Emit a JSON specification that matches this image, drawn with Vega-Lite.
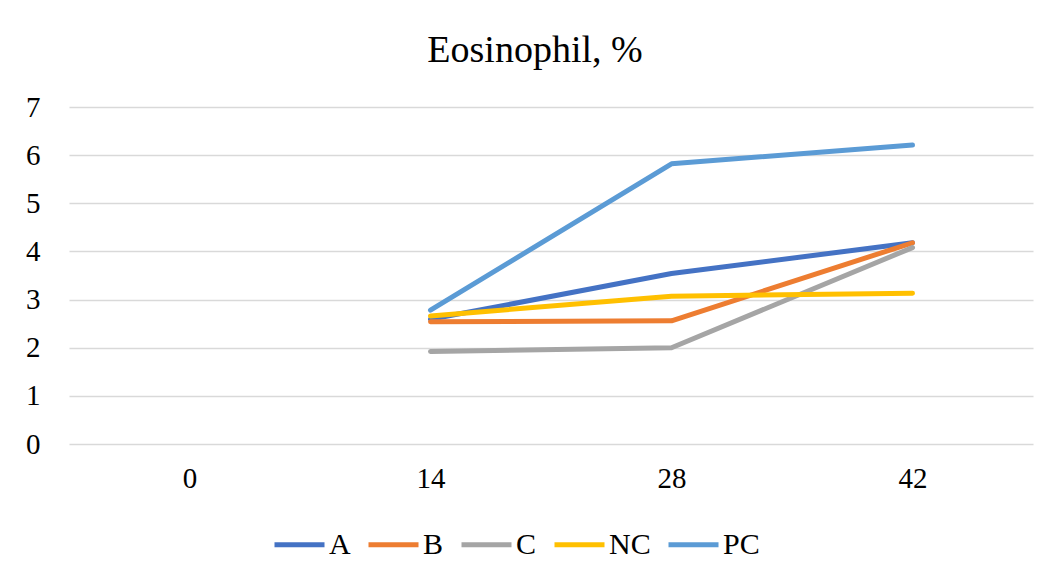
{
  "$schema": "https://vega.github.io/schema/vega-lite/v6.json",
  "autosize": {"type": "none"},
  "width": 964,
  "height": 337,
  "padding": {"left": 69, "top": 107, "right": 18, "bottom": 136},
  "background": "white",
  "title": {
    "text": "Eosinophil, %",
    "font": "Liberation Serif",
    "fontSize": 38,
    "fontWeight": "normal",
    "color": "#000000",
    "anchor": "middle",
    "dx": -16,
    "offset": 23
  },
  "data": {
    "values": [
      {"day": "14", "group": "A", "value": 2.59},
      {"day": "28", "group": "A", "value": 3.54},
      {"day": "42", "group": "A", "value": 4.18},
      {"day": "14", "group": "B", "value": 2.54},
      {"day": "28", "group": "B", "value": 2.56},
      {"day": "42", "group": "B", "value": 4.18},
      {"day": "14", "group": "C", "value": 1.92},
      {"day": "28", "group": "C", "value": 2.0},
      {"day": "42", "group": "C", "value": 4.08},
      {"day": "14", "group": "NC", "value": 2.66},
      {"day": "28", "group": "NC", "value": 3.07},
      {"day": "42", "group": "NC", "value": 3.13},
      {"day": "14", "group": "PC", "value": 2.78},
      {"day": "28", "group": "PC", "value": 5.82},
      {"day": "42", "group": "PC", "value": 6.21}
    ]
  },
  "mark": {"type": "line", "strokeWidth": 5, "strokeCap": "round", "strokeJoin": "round"},
  "encoding": {
    "x": {
      "field": "day",
      "type": "ordinal",
      "scale": {"domain": ["0", "14", "28", "42"], "type": "point", "padding": 0.5},
      "axis": {
        "title": null,
        "labelAngle": 0,
        "domain": false,
        "ticks": false,
        "grid": false,
        "labelFont": "Liberation Serif",
        "labelFontSize": 29,
        "labelColor": "#000000",
        "labelPadding": 20
      }
    },
    "y": {
      "field": "value",
      "type": "quantitative",
      "scale": {"domain": [0, 7], "nice": false},
      "axis": {
        "title": null,
        "values": [0, 1, 2, 3, 4, 5, 6, 7],
        "domain": false,
        "ticks": false,
        "grid": true,
        "gridColor": "#d9d9d9",
        "gridWidth": 1.5,
        "labelFont": "Liberation Serif",
        "labelFontSize": 29,
        "labelColor": "#000000",
        "labelPadding": 29
      }
    },
    "color": {
      "field": "group",
      "type": "nominal",
      "scale": {
        "domain": ["A", "B", "C", "NC", "PC"],
        "range": ["#4472C4", "#ED7D31", "#A5A5A5", "#FFC000", "#5B9BD5"]
      },
      "legend": {
        "title": null,
        "orient": "none",
        "direction": "horizontal",
        "legendX": 203,
        "legendY": 410,
        "symbolType": "stroke",
        "symbolSize": 2500,
        "symbolStrokeWidth": 5,
        "labelFont": "Liberation Serif",
        "labelFontSize": 30,
        "labelColor": "#000000",
        "labelOffset": 2,
        "columnPadding": 7
      }
    }
  },
  "config": {
    "view": {"stroke": null}
  }
}
